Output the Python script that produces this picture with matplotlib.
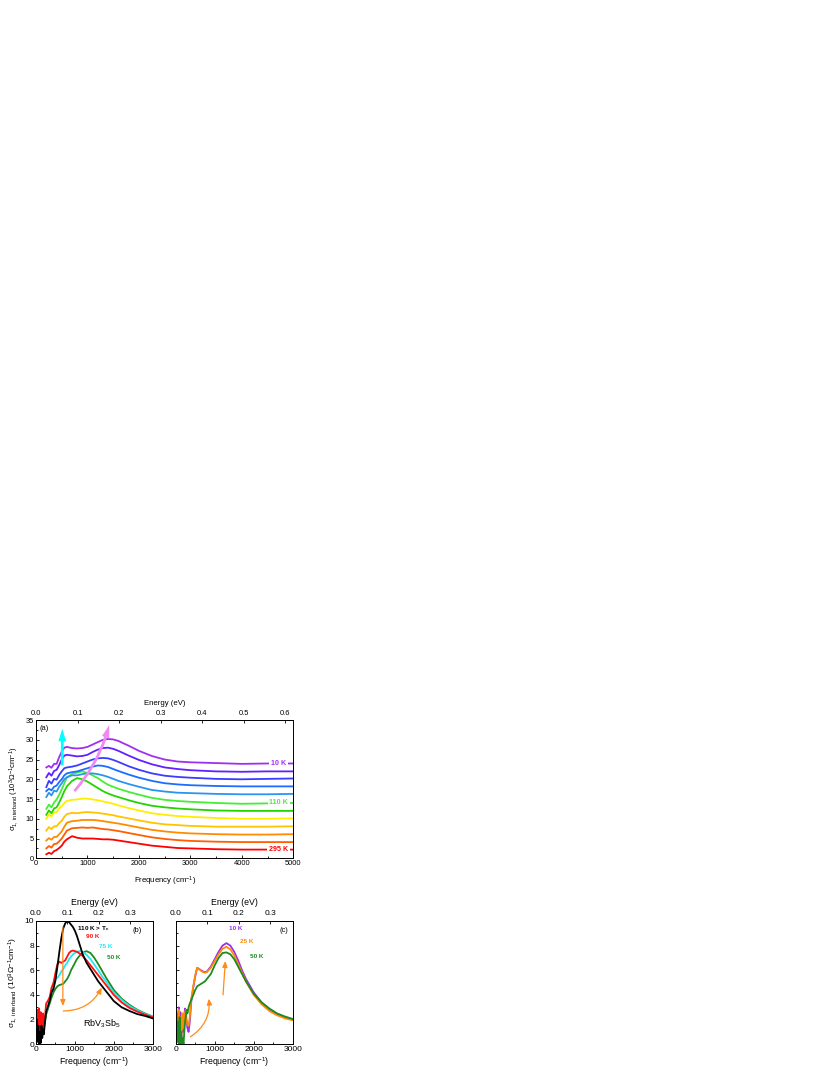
import numpy as np
import matplotlib.pyplot as plt
from matplotlib.ticker import MultipleLocator

plt.rcParams['font.family'] = ['Liberation Sans', 'DejaVu Sans']
plt.rcParams['mathtext.fontset'] = 'custom'
plt.rcParams['mathtext.rm'] = 'Liberation Sans'
plt.rcParams['mathtext.it'] = 'Liberation Sans:italic'
plt.rcParams['mathtext.default'] = 'regular'

CM_PER_EV = 8065.54

# ---- panel (a): offset interband conductivity, 12 temperatures ----
freq_a = [200, 250, 300, 350, 400, 450, 500, 550, 600, 700, 800, 900, 1000, 1100, 1200,
          1300, 1400, 1500, 1600, 1800, 2000, 2250, 2500, 2750, 3000, 3500, 4000, 4500, 5000]
s295 = [1.0, 1.4, 1.1, 1.8, 2.1, 2.6, 3.2, 4.2, 4.8, 5.6, 5.2, 5.0, 5.0, 5.0, 4.9,
        4.8, 4.8, 4.7, 4.5, 4.1, 3.7, 3.2, 2.9, 2.6, 2.5, 2.3, 2.2, 2.2, 2.2]
s250 = [2.5, 3.1, 2.7, 3.6, 3.7, 4.3, 5.0, 6.0, 7.0, 7.6, 7.7, 7.8, 7.7, 7.8, 7.6,
        7.4, 7.3, 7.1, 6.9, 6.4, 5.9, 5.3, 4.9, 4.6, 4.4, 4.2, 4.1, 4.1, 4.1]
s200 = [4.5, 5.1, 4.7, 5.4, 5.4, 6.1, 6.8, 8.0, 9.0, 9.4, 9.5, 9.7, 9.7, 9.7, 9.6,
        9.4, 9.2, 9.0, 8.8, 8.3, 7.8, 7.2, 6.8, 6.5, 6.3, 6.1, 6.0, 6.0, 6.1]
s160 = [7.0, 7.9, 7.4, 8.1, 8.1, 8.9, 9.5, 10.5, 11.2, 11.5, 11.4, 11.6, 11.7, 11.6, 11.5,
        11.3, 11.1, 10.9, 10.6, 10.1, 9.6, 9.0, 8.6, 8.4, 8.2, 8.0, 8.0, 8.0, 8.1]
s135 = [10.0, 11.1, 10.6, 11.6, 11.7, 12.6, 13.2, 14.0, 14.5, 14.8, 14.9, 15.1, 15.1, 14.9, 14.7,
        14.4, 14.1, 13.8, 13.4, 12.7, 12.1, 11.4, 11.0, 10.7, 10.5, 10.2, 10.0, 10.0, 10.1]
s120 = [11.0, 12.1, 11.4, 12.6, 12.9, 14.1, 15.5, 17.0, 18.2, 19.6, 20.3, 20.0, 19.4, 18.6, 17.8,
        17.0, 16.4, 15.9, 15.5, 14.7, 14.0, 13.3, 12.9, 12.6, 12.4, 12.1, 12.0, 12.0, 12.0]
s110 = [12.5, 13.6, 12.9, 14.1, 14.9, 16.1, 17.5, 19.0, 20.5, 21.3, 21.7, 22.0, 21.6, 21.0, 20.3,
        19.4, 18.6, 18.1, 17.6, 16.8, 16.1, 15.3, 14.8, 14.5, 14.3, 14.0, 13.8, 13.9, 14.0]
s90 = [15.5, 16.6, 15.9, 17.1, 16.9, 18.1, 19.0, 20.0, 20.5, 21.0, 21.0, 21.3, 21.5, 21.5, 21.3,
       21.0, 20.6, 20.1, 19.6, 18.8, 18.1, 17.3, 16.9, 16.6, 16.5, 16.3, 16.2, 16.2, 16.3]
s75 = [17.0, 17.6, 17.2, 18.1, 18.4, 19.3, 20.0, 21.0, 21.5, 21.8, 22.0, 22.4, 22.8, 23.2, 23.5,
       23.4, 23.1, 22.6, 22.1, 21.2, 20.4, 19.6, 19.0, 18.7, 18.5, 18.3, 18.2, 18.2, 18.2]
s50 = [18.0, 19.6, 18.9, 20.1, 19.9, 21.1, 22.0, 22.8, 23.0, 23.2, 23.5, 24.0, 24.5, 25.0, 25.3,
       25.4, 25.3, 24.9, 24.4, 23.3, 22.4, 21.5, 20.9, 20.6, 20.4, 20.1, 20.0, 20.1, 20.2]
s25 = [20.5, 21.6, 20.9, 22.1, 22.4, 23.6, 25.0, 26.0, 26.2, 26.0, 25.8, 25.9, 26.2, 26.9, 27.5,
       27.9, 28.0, 27.7, 27.2, 26.0, 24.9, 23.8, 23.0, 22.6, 22.3, 22.0, 21.9, 22.0, 22.0]
s10 = [23.0, 23.4, 22.9, 23.9, 23.9, 25.6, 27.0, 28.0, 28.2, 27.9, 27.8, 27.9, 28.2, 28.8, 29.4,
       30.0, 30.2, 30.1, 29.7, 28.5, 27.2, 25.9, 25.0, 24.5, 24.3, 24.1, 23.9, 24.0, 24.0]
curves_a = [s295, s250, s200, s160, s135, s120, s110, s90, s75, s50, s25, s10]
colors_a = ['#ff0000', '#ff5f00', '#ff8c00', '#ffc400', '#ffee00', '#22d400',
            '#44ee33', '#2a95ee', '#1b6cff', '#3c3cff', '#6020ff', '#a030f0']

# ---- panel (b): RbV3Sb5 above and below Tc ----
freq_b = [20, 40, 60, 80, 100, 120, 140, 160, 180, 200, 230, 260, 300, 350, 400, 450, 500, 550,
          600, 650, 700, 750, 800, 850, 900, 950, 1000, 1050, 1100, 1150, 1200, 1300, 1400, 1500,
          1600, 1700, 1800, 1900, 2000, 2200, 2400, 2600, 2800, 3000]
b110 = [2.0, 0.2, 1.5, 0.0, 1.0, 0.1, 1.5, 0.5, 1.2, 0.8, 1.8, 2.6, 3.0, 3.5, 4.2, 4.5, 5.2, 6.3,
        7.5, 8.6, 9.4, 9.8, 10.0, 9.9, 9.7, 9.5, 9.2, 8.8, 8.3, 7.8, 7.3, 6.6, 6.1, 5.6,
        5.1, 4.7, 4.3, 3.9, 3.5, 3.0, 2.7, 2.45, 2.3, 2.1]
b90 = [1.5, 2.8, 0.5, 2.9, 1.0, 2.6, 0.8, 1.8, 2.5, 1.5, 2.2, 3.3, 3.5, 3.8, 4.6, 5.0, 5.8, 6.5,
       6.7, 6.6, 6.7, 6.8, 7.1, 7.4, 7.55, 7.6, 7.55, 7.5, 7.4, 7.3, 7.15, 6.8, 6.4, 6.0,
       5.6, 5.2, 4.8, 4.4, 4.0, 3.4, 2.95, 2.65, 2.4, 2.2]
b75 = [2.2, 1.0, 1.8, 1.2, 2.0, 1.4, 1.6, 1.9, 1.5, 2.0, 2.3, 2.6, 3.0, 3.8, 4.3, 4.8, 5.3, 5.4,
       5.6, 5.9, 6.1, 6.4, 6.6, 6.9, 7.1, 7.3, 7.4, 7.5, 7.55, 7.55, 7.5, 7.25, 6.9, 6.45,
       6.0, 5.5, 5.1, 4.6, 4.2, 3.6, 3.1, 2.75, 2.45, 2.25]
b50 = [2.3, 0.8, 2.0, 0.5, 1.5, 0.6, 1.2, 0.9, 1.4, 1.2, 1.8, 2.4, 2.8, 3.3, 3.8, 4.2, 4.5, 4.7,
       4.8, 4.85, 4.9, 5.1, 5.3, 5.6, 6.0, 6.3, 6.6, 6.9, 7.1, 7.3, 7.45, 7.55, 7.4, 7.0,
       6.5, 5.95, 5.4, 4.9, 4.4, 3.7, 3.2, 2.8, 2.5, 2.25]

# ---- panel (c): low temperatures ----
freq_c = [20, 40, 60, 80, 100, 120, 140, 160, 180, 200, 220, 240, 260, 280, 300, 330, 360, 400,
          450, 500, 550, 600, 650, 700, 750, 800, 900, 1000, 1100, 1200, 1300, 1400, 1500, 1600,
          1700, 1800, 2000, 2200, 2400, 2600, 2800, 3000]
c10 = [2.5, 0.6, 2.2, 3.0, 1.0, 2.6, 0.3, 1.2, 2.0, 1.0, 2.4, 2.9, 2.2, 1.8, 1.3, 1.0, 1.8, 3.5,
       4.6, 5.5, 6.2, 6.1, 6.0, 5.9, 5.85, 5.9, 6.3, 6.9, 7.5, 8.0, 8.2, 8.0, 7.5, 6.8,
       6.0, 5.3, 4.2, 3.4, 2.85, 2.45, 2.2, 2.0]
c25 = [2.3, 0.8, 2.5, 2.8, 0.5, 2.2, 0.5, 1.5, 2.5, 1.3, 2.0, 2.6, 2.8, 2.0, 1.6, 1.5, 2.2, 3.7,
       4.7, 5.6, 6.2, 6.1, 5.95, 5.85, 5.8, 5.85, 6.2, 6.75, 7.3, 7.75, 7.9, 7.7, 7.2, 6.5,
       5.8, 5.1, 4.0, 3.25, 2.7, 2.35, 2.1, 1.95]
c50 = [2.5, 0.2, 1.8, 0.0, 2.2, 0.0, 1.0, 0.0, 0.5, 0.0, 1.0, 1.8, 2.3, 2.8, 2.5, 3.0, 3.3, 3.6,
       4.0, 4.4, 4.7, 4.8, 4.9, 5.0, 5.1, 5.3, 5.7, 6.4, 7.0, 7.4, 7.45, 7.3, 6.9, 6.3,
       5.7, 5.1, 4.1, 3.4, 2.9, 2.5, 2.25, 2.05]

orange_arrow = '#ff8c1a'
ylab = r'$\sigma_{1,\ interband}$ (10$^3$$\Omega^{-1}$cm$^{-1}$)'


def style_axes(ax, fs, emax, estep):
    ax.tick_params(which='both', direction='in', labelsize=fs, width=0.6, pad=1.5)
    ax.tick_params(which='major', length=2.5)
    ax.tick_params(which='minor', length=1.3)
    ax.tick_params(axis='x', which='both', top=False)
    for sp in ax.spines.values():
        sp.set_linewidth(0.7)
    sec = ax.secondary_xaxis('top', functions=(lambda x: x / CM_PER_EV, lambda e: e * CM_PER_EV))
    sec.set_xticks(np.arange(0, emax + 1e-6, estep))
    sec.xaxis.set_major_formatter(plt.FormatStrFormatter('%.1f'))
    sec.tick_params(direction='in', labelsize=fs, width=0.6, length=2.5, pad=2.5)
    sec.spines['top'].set_linewidth(0.7)
    return sec


fig = plt.figure(figsize=(8.3, 10.75), dpi=100)

# panel (a)
ax = fig.add_axes([0.0434, 0.2016, 0.3100, 0.1286])
for y, c in zip(curves_a, colors_a):
    ax.plot(freq_a, y, color=c, lw=1.3)
ax.set_xlim(0, 5000)
ax.set_ylim(0, 35)
ax.xaxis.set_major_locator(MultipleLocator(1000))
ax.xaxis.set_minor_locator(MultipleLocator(500))
ax.yaxis.set_major_locator(MultipleLocator(5))
ax.yaxis.set_minor_locator(MultipleLocator(2.5))
sec = style_axes(ax, 5.4, 0.6, 0.1)
sec.set_xlabel('Energy (eV)', fontsize=5.6, labelpad=3)
ax.set_xlabel('Frequency (cm$^{-1}$)', fontsize=5.6, labelpad=5)
ax.set_ylabel(ylab, fontsize=5.6, labelpad=3)
ax.text(0.012, 0.965, '(a)', transform=ax.transAxes, fontsize=5.4, va='top')
for lab, yv, c in [('10 K', 24.0, '#a030f0'), ('110 K', 14.0, '#44ee33'), ('295 K', 2.2, '#ff0000')]:
    ax.text(4715, yv, lab, color=c, fontsize=5.1, fontweight='bold', ha='center', va='center',
            bbox=dict(boxstyle='square,pad=0.25', fc='white', ec='none'))
ax.annotate('', xy=(510, 32.8), xytext=(510, 23.5),
            arrowprops=dict(arrowstyle='simple,head_width=0.55,head_length=0.9,tail_width=0.2',
                            color='#00ffff', lw=0, mutation_scale=10, shrinkA=0, shrinkB=0))
ax.annotate('', xy=(1420, 33.7), xytext=(745, 17.0),
            arrowprops=dict(arrowstyle='simple,head_width=0.55,head_length=0.9,tail_width=0.2',
                            color='#f08af0', lw=0, mutation_scale=10, shrinkA=0, shrinkB=0,
                            connectionstyle='arc3,rad=0.12'))

# panel (b)
axb = fig.add_axes([0.0434, 0.0286, 0.1406, 0.1147])
for y, c in [(b50, '#1f8a1f'), (b75, '#22e8f0'), (b90, '#ff1010'), (b110, '#000000')]:
    axb.plot(freq_b, y, color=c, lw=1.3)
axb.set_xlim(0, 3000)
axb.set_ylim(0, 10)
axb.xaxis.set_major_locator(MultipleLocator(1000))
axb.xaxis.set_minor_locator(MultipleLocator(500))
axb.yaxis.set_major_locator(MultipleLocator(2))
axb.yaxis.set_minor_locator(MultipleLocator(1))
secb = style_axes(axb, 6.0, 0.3, 0.1)
secb.set_xlabel('Energy (eV)', fontsize=6.3, labelpad=4)
axb.set_xlabel('Frequency (cm$^{-1}$)', fontsize=6.3, labelpad=1.5)
axb.set_ylabel(ylab, fontsize=6.0, labelpad=3)
axb.text(1480, 9.4, r'110 K > T$_c$', fontsize=4.6, fontweight='bold', ha='center', va='center')
axb.text(1450, 8.7, '90 K', color='#ff1010', fontsize=4.6, fontweight='bold', ha='center', va='center')
axb.text(1790, 7.9, '75 K', color='#22e8f0', fontsize=4.6, fontweight='bold', ha='center', va='center')
axb.text(1995, 7.0, '50 K', color='#1f8a1f', fontsize=4.6, fontweight='bold', ha='center', va='center')
axb.text(2590, 9.2, '(b)', fontsize=5.4, ha='center', va='center')
axb.text(1700, 1.7, r'RbV$_3$Sb$_5$', fontsize=6.5, ha='center', va='center')
axb.annotate('', xy=(690, 3.1), xytext=(690, 9.5),
             arrowprops=dict(arrowstyle='-|>,head_width=0.15,head_length=0.35', color=orange_arrow,
                             lw=0.9, mutation_scale=10, shrinkA=0, shrinkB=0))
axb.annotate('', xy=(1690, 4.6), xytext=(700, 2.7),
             arrowprops=dict(arrowstyle='-|>,head_width=0.15,head_length=0.35', color=orange_arrow,
                             lw=0.9, mutation_scale=10, shrinkA=0, shrinkB=0,
                             connectionstyle='arc3,rad=0.3'))

# panel (c)
axc = fig.add_axes([0.2117, 0.0286, 0.1410, 0.1147])
for y, c in [(c10, '#9a2ff0'), (c25, '#ff8c00'), (c50, '#1f8a1f')]:
    axc.plot(freq_c, y, color=c, lw=1.3)
axc.set_xlim(0, 3000)
axc.set_ylim(0, 10)
axc.xaxis.set_major_locator(MultipleLocator(1000))
axc.xaxis.set_minor_locator(MultipleLocator(500))
axc.yaxis.set_major_locator(MultipleLocator(2))
axc.yaxis.set_minor_locator(MultipleLocator(1))
secc = style_axes(axc, 6.0, 0.3, 0.1)
axc.tick_params(axis='y', labelleft=False)
secc.set_xlabel('Energy (eV)', fontsize=6.3, labelpad=4)
axc.set_xlabel('Frequency (cm$^{-1}$)', fontsize=6.3, labelpad=1.5)
axc.text(1530, 9.35, '10 K', color='#9a2ff0', fontsize=4.6, fontweight='bold', ha='center', va='center')
axc.text(1830, 8.3, '25 K', color='#ff8c00', fontsize=4.6, fontweight='bold', ha='center', va='center')
axc.text(2085, 7.1, '50 K', color='#1f8a1f', fontsize=4.6, fontweight='bold', ha='center', va='center')
axc.text(2770, 9.2, '(c)', fontsize=5.4, ha='center', va='center')
axc.annotate('', xy=(850, 3.7), xytext=(375, 0.6),
             arrowprops=dict(arrowstyle='-|>,head_width=0.15,head_length=0.35', color=orange_arrow,
                             lw=0.9, mutation_scale=10, shrinkA=0, shrinkB=0,
                             connectionstyle='arc3,rad=0.3'))
axc.annotate('', xy=(1272, 6.75), xytext=(1213, 4.0),
             arrowprops=dict(arrowstyle='-|>,head_width=0.15,head_length=0.35', color=orange_arrow,
                             lw=0.9, mutation_scale=10, shrinkA=0, shrinkB=0))

fig.savefig('out.png', dpi=100)
